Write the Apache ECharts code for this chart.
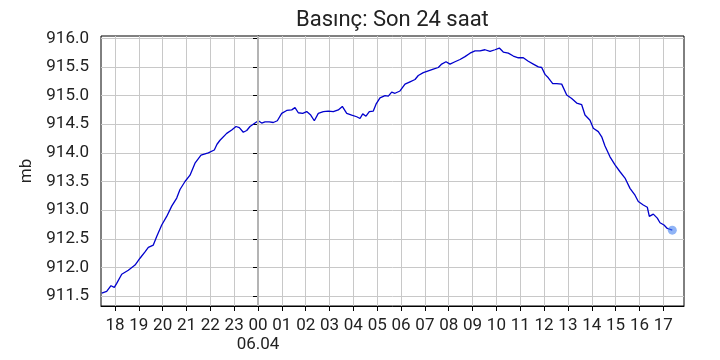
<!DOCTYPE html>
<html><head><meta charset="utf-8">
<script src="https://cdn.jsdelivr.net/npm/echarts@6/dist/echarts.min.js"></script>
<style>html,body{margin:0;padding:0;background:#fff}#c{width:720px;height:360px}</style>
</head><body><div id="c"></div>
<script>
// hours relative to 00:00 on 06.04 (negative = previous evening)
const hours = [-6.556,-6.347,-6.166,-6.028,-5.927,-5.717,-5.440,-5.159,-4.950,-4.740,-4.601,-4.392,-4.249,-4.039,-3.830,-3.620,-3.410,-3.272,-3.062,-2.852,-2.643,-2.391,-2.085,-1.833,-1.720,-1.594,-1.313,-1.103,-0.923,-0.784,-0.617,-0.474,-0.336,-0.126,0.013,0.155,0.294,0.474,0.642,0.810,0.994,1.204,1.414,1.552,1.690,1.875,2.043,2.211,2.362,2.529,2.739,2.949,3.159,3.368,3.536,3.721,3.930,4.140,4.279,4.392,4.530,4.669,4.836,4.950,5.117,5.327,5.466,5.608,5.747,5.956,6.166,6.376,6.586,6.724,6.934,7.144,7.353,7.563,7.705,7.886,8.054,8.263,8.473,8.683,8.893,9.102,9.312,9.522,9.732,9.941,10.122,10.289,10.499,10.709,10.919,11.128,11.338,11.548,11.758,11.900,12.039,12.177,12.362,12.529,12.739,12.949,13.158,13.368,13.578,13.716,13.926,14.065,14.274,14.417,14.555,14.765,14.975,15.185,15.394,15.604,15.814,15.952,16.162,16.330,16.414,16.582,16.749,16.862,17.030,17.169,17.378];
const pressure = [911.55,911.58,911.68,911.65,911.72,911.88,911.95,912.04,912.16,912.27,912.35,912.39,912.54,912.74,912.89,913.07,913.21,913.36,913.50,913.61,913.82,913.96,914.00,914.05,914.15,914.22,914.34,914.40,914.46,914.44,914.36,914.39,914.46,914.52,914.56,914.52,914.54,914.54,914.53,914.56,914.69,914.74,914.75,914.79,914.70,914.69,914.72,914.66,914.56,914.69,914.72,914.73,914.72,914.75,914.81,914.69,914.66,914.63,914.60,914.68,914.64,914.72,914.73,914.85,914.96,915.00,914.99,915.06,915.04,915.08,915.20,915.24,915.28,915.35,915.40,915.43,915.46,915.49,915.55,915.59,915.55,915.59,915.63,915.68,915.74,915.78,915.78,915.80,915.77,915.80,915.83,915.76,915.74,915.69,915.66,915.66,915.60,915.55,915.50,915.49,915.37,915.31,915.21,915.21,915.20,915.01,914.95,914.87,914.84,914.66,914.57,914.43,914.37,914.28,914.12,913.93,913.79,913.67,913.56,913.38,913.26,913.15,913.09,913.05,912.89,912.93,912.86,912.78,912.74,912.68,912.65];
const xTicks = [-6,-5,-4,-3,-2,-1,0,1,2,3,4,5,6,7,8,9,10,11,12,13,14,15,16,17];
const yTicks = [911.5,912.0,912.5,913.0,913.5,914.0,914.5,915.0,915.5,916.0];
const dayLabel = '06.04';
const titleText = 'Basınç: Son 24 saat';
const yName = 'mb';

const line = hours.map((h, i) => [h, pressure[i]]);
const last = [line[line.length - 1]];
const font = 'Roboto';
const chart = echarts.init(document.getElementById('c'), null, {renderer: 'canvas'});
chart.setOption({
  animation: false,
  backgroundColor: '#fff',
  title: {text: titleText, left: 291, top: 4,
    textStyle: {fontFamily: font, fontSize: 22, fontWeight: 'normal', color: '#222'}},
  grid: {left: 101, right: 36, top: 36, bottom: 54, show: true, borderColor: '#000', borderWidth: 1, backgroundColor: 'transparent'},
  xAxis: {
    type: 'value', min: -6.586, max: 17.869,
    axisLine: {show: true, lineStyle: {color: '#000', width: 1}},
    axisTick: {show: true, customValues: xTicks, length: 5, lineStyle: {color: '#000'}},
    axisLabel: {customValues: xTicks, margin: 10, fontFamily: font, fontSize: 17, color: '#222', lineHeight: 19,
      formatter: v => { const r = Math.round(v); const hh = String(((r % 24) + 24) % 24).padStart(2, '0'); return r === 0 ? hh + '\n' + dayLabel : hh; }},
    splitLine: {show: true, lineStyle: {color: '#c8c8c8', width: 1}}
  },
  yAxis: {
    type: 'value', min: 911.326, max: 916.04,
    name: yName, nameLocation: 'middle', nameGap: 63,
    nameTextStyle: {fontFamily: font, fontSize: 17, color: '#222'},
    axisLine: {show: true, lineStyle: {color: '#000', width: 1}},
    axisTick: {show: true, customValues: yTicks, length: 5, lineStyle: {color: '#000'}},
    axisLabel: {customValues: yTicks, margin: 12, fontFamily: font, fontSize: 17, color: '#222',
      formatter: v => v.toFixed(1)},
    splitLine: {show: true, lineStyle: {color: '#c8c8c8', width: 1}}
  },
  series: [
    {type: 'line', data: [], z: 1, silent: true,
      markLine: {silent: true, symbol: 'none', label: {show: false},
        lineStyle: {color: '#b4b4b4', width: 2, type: 'solid'}, data: [{xAxis: 0}]}},
    {type: 'line', data: line, showSymbol: false, symbol: 'none', z: 3,
      lineStyle: {color: '#0000cd', width: 1.3}},
    {type: 'scatter', data: last, symbolSize: 9, z: 4,
      itemStyle: {color: 'rgba(70,130,240,0.75)'}}
  ]
});
</script></body></html>
